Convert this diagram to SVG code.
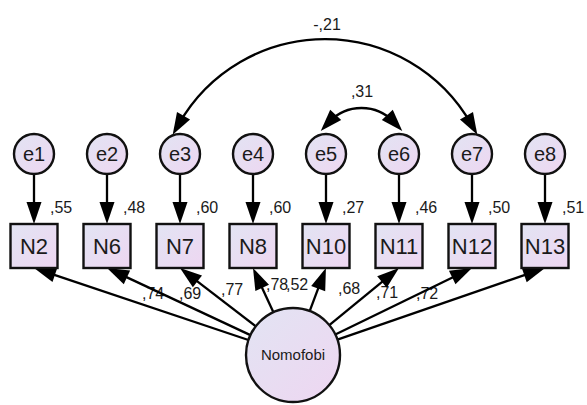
<svg xmlns="http://www.w3.org/2000/svg" width="587" height="405" viewBox="0 0 587 405">
  <style>
    .node { fill: url(#fillGrad); stroke: #111; stroke-width: 2.4; }
    .lbl { font-family: "Liberation Sans", Arial, sans-serif; fill: #1a1a1a; }
    .nm { font-size: 22px; text-anchor: middle; }
    .en { font-size: 20px; text-anchor: middle; }
    .est { font-size: 16px; }
    .edge { fill: none; stroke: #000; stroke-width: 2.3; }
  </style>
  <defs>
    <linearGradient id="fillGrad" x1="0" y1="0" x2="1" y2="1">
      <stop offset="0" stop-color="#e2e4f3"/>
      <stop offset="1" stop-color="#eed6f1"/>
    </linearGradient>
    <marker id="arrow" markerUnits="userSpaceOnUse" markerWidth="40" markerHeight="40" refX="0" refY="0" orient="auto" overflow="visible">
      <path d="M12,0 L-10,-7.5 L-10,7.5 Z" fill="#000"/>
    </marker>
    <marker id="arrowStart" markerUnits="userSpaceOnUse" markerWidth="40" markerHeight="40" refX="0" refY="0" orient="auto-start-reverse" overflow="visible">
      <path d="M12,0 L-10,-7.5 L-10,7.5 Z" fill="#000"/>
    </marker>
  </defs>

  <rect width="587" height="405" fill="#fff"/>

  <!-- estimates -->
  <g id="estimates" class="lbl est">
    <text x="50" y="213">,55</text>
    <text x="123" y="213">,48</text>
    <text x="196" y="213">,60</text>
    <text x="269" y="213">,60</text>
    <text x="342" y="213">,27</text>
    <text x="415" y="213">,46</text>
    <text x="488" y="213">,50</text>
    <text x="562" y="213">,51</text>
    <text x="142" y="299">,74</text>
    <text x="179" y="299">,69</text>
    <text x="221" y="295">,77</text>
    <text x="266" y="290">,78</text>
    <text x="286" y="290">,52</text>
    <text x="338" y="294">,68</text>
    <text x="376" y="298">,71</text>
    <text x="416" y="299">,72</text>
    <text x="327" y="30" text-anchor="middle">-,21</text>
    <text x="362" y="97" text-anchor="middle">,31</text>
  </g>

  <!-- paths -->
  <g id="connectors" class="edge">
    <!-- error terms to indicators -->
    <line x1="34" y1="174" x2="34" y2="212" marker-end="url(#arrow)"/>
    <line x1="107" y1="174" x2="107" y2="212" marker-end="url(#arrow)"/>
    <line x1="180" y1="174" x2="180" y2="212" marker-end="url(#arrow)"/>
    <line x1="253" y1="174" x2="253" y2="212" marker-end="url(#arrow)"/>
    <line x1="326" y1="174" x2="326" y2="212" marker-end="url(#arrow)"/>
    <line x1="399" y1="174" x2="399" y2="212" marker-end="url(#arrow)"/>
    <line x1="472" y1="174" x2="472" y2="212" marker-end="url(#arrow)"/>
    <line x1="545" y1="174" x2="545" y2="212" marker-end="url(#arrow)"/>
    <!-- factor loadings -->
    <line x1="248.4" y1="340.0" x2="45.4" y2="271.8" marker-end="url(#arrow)"/>
    <line x1="250.4" y1="335.1" x2="117.9" y2="273.1" marker-end="url(#arrow)"/>
    <line x1="255.8" y1="326.3" x2="189.5" y2="275.3" marker-end="url(#arrow)"/>
    <line x1="273.4" y1="312.3" x2="258.0" y2="278.9" marker-end="url(#arrow)"/>
    <line x1="309.7" y1="311.1" x2="321.7" y2="279.2" marker-end="url(#arrow)"/>
    <line x1="329.3" y1="325.2" x2="389.7" y2="275.6" marker-end="url(#arrow)"/>
    <line x1="335.3" y1="334.5" x2="461.2" y2="273.2" marker-end="url(#arrow)"/>
    <line x1="337.4" y1="339.7" x2="533.7" y2="271.9" marker-end="url(#arrow)"/>
    <!-- covariances -->
    <path d="M178.6,124.4 A168.3,168.3 0 0 1 471.4,124.4" marker-start="url(#arrowStart)" marker-end="url(#arrow)"/>
    <path d="M328.9,122.2 A44.5,44.5 0 0 1 394.1,122.2" marker-start="url(#arrowStart)" marker-end="url(#arrow)"/>
  </g>

  <!-- error terms -->
  <g id="e1"><circle class="node" cx="34" cy="154" r="20"/><text class="lbl en" x="34" y="161">e1</text></g>
  <g id="e2"><circle class="node" cx="107" cy="154" r="20"/><text class="lbl en" x="107" y="161">e2</text></g>
  <g id="e3"><circle class="node" cx="180" cy="154" r="20"/><text class="lbl en" x="180" y="161">e3</text></g>
  <g id="e4"><circle class="node" cx="253" cy="154" r="20"/><text class="lbl en" x="253" y="161">e4</text></g>
  <g id="e5"><circle class="node" cx="326" cy="154" r="20"/><text class="lbl en" x="326" y="161">e5</text></g>
  <g id="e6"><circle class="node" cx="399" cy="154" r="20"/><text class="lbl en" x="399" y="161">e6</text></g>
  <g id="e7"><circle class="node" cx="472" cy="154" r="20"/><text class="lbl en" x="472" y="161">e7</text></g>
  <g id="e8"><circle class="node" cx="545" cy="154" r="20"/><text class="lbl en" x="545" y="161">e8</text></g>

  <!-- observed indicators -->
  <g id="N2"><rect class="node" x="10.5" y="224" width="47" height="44"/><text class="lbl nm" x="34" y="254">N2</text></g>
  <g id="N6"><rect class="node" x="83.5" y="224" width="47" height="44"/><text class="lbl nm" x="107" y="254">N6</text></g>
  <g id="N7"><rect class="node" x="156.5" y="224" width="47" height="44"/><text class="lbl nm" x="180" y="254">N7</text></g>
  <g id="N8"><rect class="node" x="229.5" y="224" width="47" height="44"/><text class="lbl nm" x="253" y="254">N8</text></g>
  <g id="N10"><rect class="node" x="302.5" y="224" width="47" height="44"/><text class="lbl nm" x="326" y="254">N10</text></g>
  <g id="N11"><rect class="node" x="375.5" y="224" width="47" height="44"/><text class="lbl nm" x="399" y="254">N11</text></g>
  <g id="N12"><rect class="node" x="448.5" y="224" width="47" height="44"/><text class="lbl nm" x="472" y="254">N12</text></g>
  <g id="N13"><rect class="node" x="521.5" y="224" width="47" height="44"/><text class="lbl nm" x="545" y="254">N13</text></g>

  <!-- latent factor -->
  <g id="Nomofobi"><circle class="node" cx="293" cy="355" r="47"/><text class="lbl" x="293" y="360" font-size="15" text-anchor="middle">Nomofobi</text></g>
</svg>
